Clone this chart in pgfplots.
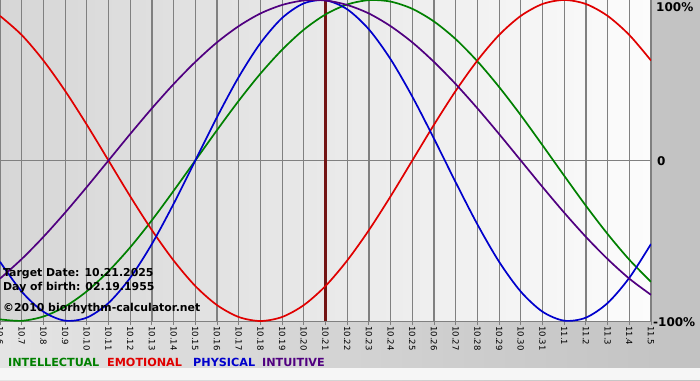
\documentclass[border=0pt]{standalone}
\usepackage{fontspec}
\setmainfont{DejaVu Sans}
\usepackage{pgfplots}
\usepackage{pgfplotstable}
\pgfplotsset{compat=1.18}
\definecolor{cgreen}{RGB}{0,128,0}
\definecolor{cred}{RGB}{224,0,0}
\definecolor{cblue}{RGB}{0,0,204}
\definecolor{cpurple}{RGB}{80,0,128}
\definecolor{cline}{RGB}{115,20,20}
\definecolor{cgrid}{RGB}{128,128,128}
\definecolor{bgl}{RGB}{228,228,228}
\definecolor{bgr}{RGB}{194,194,194}
\definecolor{pal}{RGB}{214,214,214}
\definecolor{par}{RGB}{252,252,252}
\definecolor{bot}{RGB}{246,246,246}

\pgfplotstableread{
d phys emo intel intu
0 -0.631 0.901 -0.990 -0.736
1 -0.817 0.782 -0.999 -0.614
2 -0.942 0.623 -0.972 -0.476
3 -0.998 0.434 -0.910 -0.325
4 -0.979 0.223 -0.815 -0.165
5 -0.888 0.000 -0.690 0.000
6 -0.731 -0.223 -0.541 0.165
7 -0.520 -0.434 -0.372 0.325
8 -0.270 -0.623 -0.189 0.476
9 0.000 -0.782 0.000 0.614
10 0.270 -0.901 0.189 0.736
11 0.520 -0.975 0.372 0.837
12 0.731 -1.000 0.541 0.916
13 0.888 -0.975 0.690 0.969
14 0.979 -0.901 0.815 0.997
15 0.998 -0.782 0.910 0.997
16 0.942 -0.623 0.972 0.969
17 0.817 -0.434 0.999 0.916
18 0.631 -0.223 0.990 0.837
19 0.398 0.000 0.945 0.736
20 0.136 0.223 0.866 0.614
21 -0.136 0.434 0.756 0.476
22 -0.398 0.623 0.618 0.325
23 -0.631 0.782 0.458 0.165
24 -0.817 0.901 0.282 0.000
25 -0.942 0.975 0.095 -0.165
26 -0.998 1.000 -0.095 -0.325
27 -0.979 0.975 -0.282 -0.476
28 -0.888 0.901 -0.458 -0.614
29 -0.731 0.782 -0.618 -0.736
30 -0.520 0.623 -0.756 -0.837
}\bio

\begin{document}
\begin{tikzpicture}
\shade[left color=bgl, right color=bgr] (0pt,0pt) rectangle (700pt,380pt);
\fill[bot] (0pt,0pt) rectangle (700pt,12pt);
\begin{axis}[
  at={(0pt,59pt)}, anchor=south west,
  scale only axis, width=651pt, height=321pt,
  xmin=0, xmax=30, ymin=-1, ymax=1,
  axis background/.style={left color=pal, right color=par},
  axis line style={cgrid, line width=1pt},
  xtick={0,...,30},
  xticklabels={10.6,10.7,10.8,10.9,10.10,10.11,10.12,10.13,10.14,10.15,10.16,10.17,10.18,10.19,10.20,10.21,10.22,10.23,10.24,10.25,10.26,10.27,10.28,10.29,10.30,10.31,11.1,11.2,11.3,11.4,11.5},
  xmajorgrids, ymajorgrids,
  grid style={cgrid, line width=1.2pt},
  ytick={0}, yticklabels={},
  xtick align=outside, major tick length=4pt,
  tick style={cgrid, line width=1pt},
  ytick style={draw=none},
  xticklabel style={rotate=-90, anchor=west, font=\fontsize{8.5}{9}\selectfont, inner sep=1pt},
  /pgf/number format/assume math mode=true,
]
\addplot[cline, line width=2.5pt] coordinates {(15,-1) (15,1)};
\addplot[cgreen, line width=1.7pt, smooth] table[x=d, y=intel] {\bio};
\addplot[cred, line width=1.7pt, smooth] table[x=d, y=emo] {\bio};
\addplot[cblue, line width=1.7pt, smooth] table[x=d, y=phys] {\bio};
\addplot[cpurple, line width=1.7pt, smooth] table[x=d, y=intu] {\bio};
\end{axis}
% right labels
\node[anchor=west, inner sep=0pt, font=\bfseries\fontsize{12}{12}\selectfont] at (656pt,373pt) {100\%};
\node[anchor=west, inner sep=0pt, font=\bfseries\fontsize{12}{12}\selectfont] at (657pt,219pt) {0};
\node[anchor=west, inner sep=0pt, font=\bfseries\fontsize{12}{12}\selectfont] at (653pt,58pt) {-100\%};
% info text
\node[anchor=base west, inner sep=0pt, font=\bfseries\fontsize{10.9}{12}\selectfont] at (3pt,103.5pt) {Target Date: 10.21.2025};
\node[anchor=base west, inner sep=0pt, font=\bfseries\fontsize{10.9}{12}\selectfont] at (3pt,89.5pt) {Day of birth: 02.19.1955};
\node[anchor=base west, inner sep=0pt, font=\bfseries\fontsize{10.9}{12}\selectfont] at (3pt,68.5pt) {©2010 biorhythm-calculator.net};
% legend
\node[anchor=west, inner sep=0pt, text=cgreen, font=\bfseries\fontsize{11.2}{12}\selectfont] at (8pt,18pt) {INTELLECTUAL};
\node[anchor=west, inner sep=0pt, text=cred, font=\bfseries\fontsize{11.2}{12}\selectfont] at (107pt,18pt) {EMOTIONAL};
\node[anchor=west, inner sep=0pt, text=cblue, font=\bfseries\fontsize{11.2}{12}\selectfont] at (193pt,18pt) {PHYSICAL};
\node[anchor=west, inner sep=0pt, text=cpurple, font=\bfseries\fontsize{11.2}{12}\selectfont] at (262pt,18pt) {INTUITIVE};
\pgfresetboundingbox
\useasboundingbox (0pt,0pt) rectangle (700pt,380pt);
\end{tikzpicture}
\end{document}
